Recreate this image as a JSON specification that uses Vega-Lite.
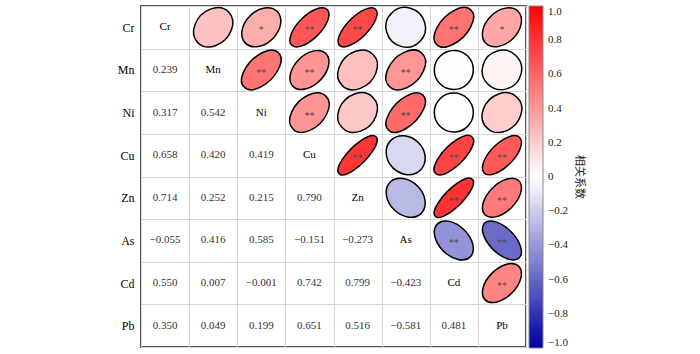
{
  "$schema": "https://vega.github.io/schema/vega-lite/v6.json",
  "width": 385,
  "height": 341,
  "autosize": {"type": "none"},
  "padding": {"left": 141, "top": 6, "right": 174, "bottom": 7},
  "background": "#ffffff",
  "datasets": {
    "pairs": [
      {"v1": "Cr", "v2": "Mn", "r": 0.239, "sig": ""},
      {"v1": "Cr", "v2": "Ni", "r": 0.317, "sig": "*"},
      {"v1": "Cr", "v2": "Cu", "r": 0.658, "sig": "**"},
      {"v1": "Cr", "v2": "Zn", "r": 0.714, "sig": "**"},
      {"v1": "Cr", "v2": "As", "r": -0.055, "sig": ""},
      {"v1": "Cr", "v2": "Cd", "r": 0.550, "sig": "**"},
      {"v1": "Cr", "v2": "Pb", "r": 0.350, "sig": "*"},
      {"v1": "Mn", "v2": "Ni", "r": 0.542, "sig": "**"},
      {"v1": "Mn", "v2": "Cu", "r": 0.420, "sig": "**"},
      {"v1": "Mn", "v2": "Zn", "r": 0.252, "sig": ""},
      {"v1": "Mn", "v2": "As", "r": 0.416, "sig": "**"},
      {"v1": "Mn", "v2": "Cd", "r": 0.007, "sig": ""},
      {"v1": "Mn", "v2": "Pb", "r": 0.049, "sig": ""},
      {"v1": "Ni", "v2": "Cu", "r": 0.419, "sig": "**"},
      {"v1": "Ni", "v2": "Zn", "r": 0.215, "sig": ""},
      {"v1": "Ni", "v2": "As", "r": 0.585, "sig": "**"},
      {"v1": "Ni", "v2": "Cd", "r": -0.001, "sig": ""},
      {"v1": "Ni", "v2": "Pb", "r": 0.199, "sig": ""},
      {"v1": "Cu", "v2": "Zn", "r": 0.790, "sig": "**"},
      {"v1": "Cu", "v2": "As", "r": -0.151, "sig": ""},
      {"v1": "Cu", "v2": "Cd", "r": 0.742, "sig": "**"},
      {"v1": "Cu", "v2": "Pb", "r": 0.651, "sig": "**"},
      {"v1": "Zn", "v2": "As", "r": -0.273, "sig": ""},
      {"v1": "Zn", "v2": "Cd", "r": 0.799, "sig": "**"},
      {"v1": "Zn", "v2": "Pb", "r": 0.516, "sig": "**"},
      {"v1": "As", "v2": "Cd", "r": -0.423, "sig": "**"},
      {"v1": "As", "v2": "Pb", "r": -0.581, "sig": "**"},
      {"v1": "Cd", "v2": "Pb", "r": 0.481, "sig": "**"}
    ],
    "vars": [
      {"v": "Cr"}, {"v": "Mn"}, {"v": "Ni"}, {"v": "Cu"},
      {"v": "Zn"}, {"v": "As"}, {"v": "Cd"}, {"v": "Pb"}
    ]
  },
  "layer": [
    {
      "data": {"name": "pairs"},
      "mark": {"type": "point", "filled": true, "opacity": 1, "stroke": "#000000", "strokeWidth": 1.5, "size": 1521},
      "encoding": {
        "x": {"field": "v2", "type": "nominal", "title": null,
          "scale": {"domain": ["Cr","Mn","Ni","Cu","Zn","As","Cd","Pb"], "paddingInner": 0, "paddingOuter": 0},
          "axis": {"orient": "top", "labels": false, "ticks": false, "domain": false, "grid": true, "tickBand": "extent", "gridColor": "#d6d6d6", "gridWidth": 1}},
        "y": {"field": "v1", "type": "nominal", "title": null,
          "scale": {"domain": ["Cr","Mn","Ni","Cu","Zn","As","Cd","Pb"], "paddingInner": 0, "paddingOuter": 0},
          "axis": {"ticks": false, "domain": false, "grid": true, "tickBand": "extent", "gridColor": "#d6d6d6", "gridWidth": 1, "labelFont": "Liberation Serif", "labelFontSize": 12, "labelColor": "#000000", "labelPadding": 7}},
        "fill": {"field": "r", "type": "quantitative",
          "scale": {"domain": [-1, 0, 1], "range": ["#0000a0", "#ffffff", "#ff0000"], "interpolate": "rgb"},
          "legend": {
            "title": "相关系数", "orient": "right", "direction": "vertical", "offset": 3, "padding": 0,
            "titleOrient": "right", "titleAnchor": "middle", "titleFont": "Noto Sans CJK SC", "titleFontSize": 11, "titleFontWeight": "normal", "titleColor": "#222222", "titlePadding": 6,
            "gradientLength": 342, "gradientThickness": 14, "gradientStrokeColor": "#888888", "gradientStrokeWidth": 1,
            "values": [-1, -0.8, -0.6, -0.4, -0.2, 0, 0.2, 0.4, 0.6, 0.8, 1],
            "labelExpr": "datum.value == 0 ? '0' : format(datum.value, '.1f')",
            "labelFont": "Liberation Serif", "labelFontSize": 11, "labelColor": "#222222", "labelOffset": 5, "labelBaseline": "middle", "labelOverlap": false
          }},
        "shape": {"field": "r", "type": "nominal", "legend": null,
          "scale": {
            "domain": [0.239, 0.317, 0.658, 0.714, -0.055, 0.550, 0.350, 0.542, 0.420, 0.252, 0.416, 0.007, 0.049, 0.419, 0.215, 0.585, -0.001, 0.199, 0.790, -0.151, 0.742, 0.651, -0.273, 0.799, 0.516, -0.423, -0.581, 0.481],
            "range": [
              "M-0.787,0.787A1.113,0.872,-45,1,0,0.787,-0.787A1.113,0.872,-45,1,0,-0.787,0.787Z",
              "M-0.812,0.812A1.148,0.826,-45,1,0,0.812,-0.812A1.148,0.826,-45,1,0,-0.812,0.812Z",
              "M-0.911,0.911A1.288,0.585,-45,1,0,0.911,-0.911A1.288,0.585,-45,1,0,-0.911,0.911Z",
              "M-0.926,0.926A1.309,0.535,-45,1,0,0.926,-0.926A1.309,0.535,-45,1,0,-0.926,0.926Z",
              "M-0.726,-0.726A1.027,0.972,45,1,0,0.726,0.726A1.027,0.972,45,1,0,-0.726,-0.726Z",
              "M-0.880,0.880A1.245,0.671,-45,1,0,0.880,-0.880A1.245,0.671,-45,1,0,-0.880,0.880Z",
              "M-0.822,0.822A1.162,0.806,-45,1,0,0.822,-0.822A1.162,0.806,-45,1,0,-0.822,0.822Z",
              "M-0.878,0.878A1.242,0.677,-45,1,0,0.878,-0.878A1.242,0.677,-45,1,0,-0.878,0.878Z",
              "M-0.843,0.843A1.192,0.762,-45,1,0,0.843,-0.843A1.192,0.762,-45,1,0,-0.843,0.843Z",
              "M-0.791,0.791A1.119,0.865,-45,1,0,0.791,-0.791A1.119,0.865,-45,1,0,-0.791,0.791Z",
              "M-0.841,0.841A1.190,0.764,-45,1,0,0.841,-0.841A1.190,0.764,-45,1,0,-0.841,0.841Z",
              "M-0.710,0.710A1.004,0.997,-45,1,0,0.710,-0.710A1.004,0.997,-45,1,0,-0.710,0.710Z",
              "M-0.724,0.724A1.024,0.975,-45,1,0,0.724,-0.724A1.024,0.975,-45,1,0,-0.724,0.724Z",
              "M-0.842,0.842A1.191,0.762,-45,1,0,0.842,-0.842A1.191,0.762,-45,1,0,-0.842,0.842Z",
              "M-0.779,0.779A1.102,0.886,-45,1,0,0.779,-0.779A1.102,0.886,-45,1,0,-0.779,0.779Z",
              "M-0.890,0.890A1.259,0.644,-45,1,0,0.890,-0.890A1.259,0.644,-45,1,0,-0.890,0.890Z",
              "M-0.708,-0.708A1.001,0.999,45,1,0,0.708,0.708A1.001,0.999,45,1,0,-0.708,-0.708Z",
              "M-0.774,0.774A1.095,0.895,-45,1,0,0.774,-0.774A1.095,0.895,-45,1,0,-0.774,0.774Z",
              "M-0.946,0.946A1.338,0.458,-45,1,0,0.946,-0.946A1.338,0.458,-45,1,0,-0.946,0.946Z",
              "M-0.759,-0.759A1.073,0.921,45,1,0,0.759,0.759A1.073,0.921,45,1,0,-0.759,-0.759Z",
              "M-0.933,0.933A1.320,0.508,-45,1,0,0.933,-0.933A1.320,0.508,-45,1,0,-0.933,0.933Z",
              "M-0.909,0.909A1.285,0.591,-45,1,0,0.909,-0.909A1.285,0.591,-45,1,0,-0.909,0.909Z",
              "M-0.798,-0.798A1.128,0.853,45,1,0,0.798,0.798A1.128,0.853,45,1,0,-0.798,-0.798Z",
              "M-0.948,0.948A1.341,0.448,-45,1,0,0.948,-0.948A1.341,0.448,-45,1,0,-0.948,0.948Z",
              "M-0.871,0.871A1.231,0.696,-45,1,0,0.871,-0.871A1.231,0.696,-45,1,0,-0.871,0.871Z",
              "M-0.844,-0.844A1.193,0.760,45,1,0,0.844,0.844A1.193,0.760,45,1,0,-0.844,-0.844Z",
              "M-0.889,-0.889A1.257,0.647,45,1,0,0.889,0.889A1.257,0.647,45,1,0,-0.889,-0.889Z",
              "M-0.861,0.861A1.217,0.720,-45,1,0,0.861,-0.861A1.217,0.720,-45,1,0,-0.861,0.861Z"
            ]
          }}
      }
    },
    {
      "data": {"name": "pairs"},
      "mark": {"type": "text", "font": "Liberation Serif", "fontSize": 10, "color": "#4a4a4a", "dy": 3},
      "encoding": {
        "x": {"field": "v2", "type": "nominal", "title": null},
        "y": {"field": "v1", "type": "nominal", "title": null},
        "text": {"field": "sig"}
      }
    },
    {
      "data": {"name": "pairs"},
      "mark": {"type": "text", "font": "Liberation Serif", "fontSize": 11, "color": "#333333"},
      "encoding": {
        "x": {"field": "v1", "type": "nominal", "title": null},
        "y": {"field": "v2", "type": "nominal", "title": null},
        "text": {"field": "r", "type": "quantitative", "format": ".3f"}
      }
    },
    {
      "data": {"name": "vars"},
      "mark": {"type": "text", "font": "Liberation Serif", "fontSize": 11, "color": "#000000"},
      "encoding": {
        "x": {"field": "v", "type": "nominal", "title": null},
        "y": {"field": "v", "type": "nominal", "title": null},
        "text": {"field": "v"}
      }
    }
  ],
  "config": {
    "view": {"stroke": "#555555", "strokeWidth": 2}
  }
}
